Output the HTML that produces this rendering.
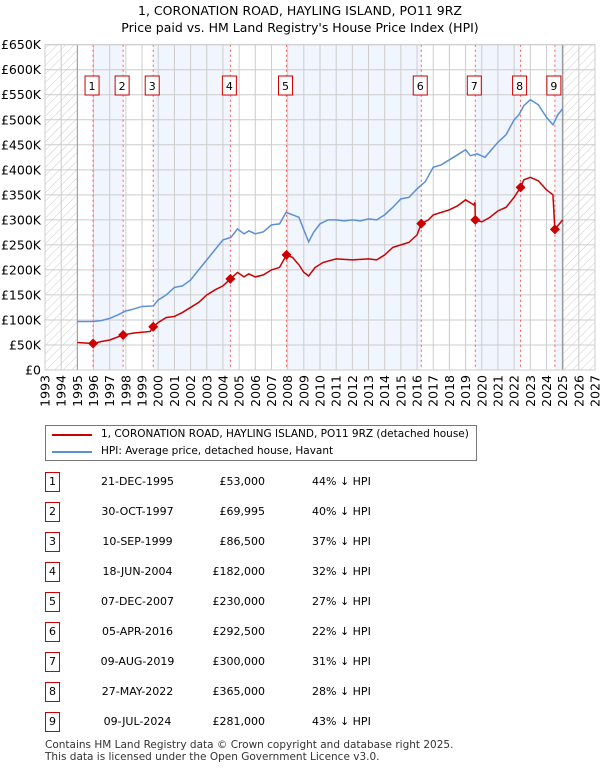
<!DOCTYPE html>
<html><head><meta charset="utf-8"><style>
body{margin:0;background:#fff;font-family:"Liberation Sans","DejaVu Sans",sans-serif;}
#wrap{position:relative;width:600px;height:770px;overflow:hidden}
text{font-family:"DejaVu Sans","Liberation Sans",sans-serif}
</style></head><body><div id="wrap">
<svg id="chart" width="600" height="770">
<defs><pattern id="hatch" width="6" height="6" patternUnits="userSpaceOnUse" patternTransform="rotate(45)"><line x1="0" y1="0" x2="0" y2="6" stroke="#ccc" stroke-width="1"/></pattern></defs>
<text x="300" y="15" text-anchor="middle" font-size="12.5">1, CORONATION ROAD, HAYLING ISLAND, PO11 9RZ</text>
<text x="300" y="32" text-anchor="middle" font-size="12.5">Price paid vs. HM Land Registry's House Price Index (HPI)</text>
<g id="plot"></g>
</svg>
<div style="position:absolute;left:45px;top:425px;width:430px;height:34px;border:1px solid #777;font-size:10.5px;white-space:nowrap;font-family:'DejaVu Sans','Liberation Sans',sans-serif">
<div style="position:absolute;left:6px;top:8px;width:40px;height:2px;background:#c00"></div>
<div style="position:absolute;left:55px;top:2px">1, CORONATION ROAD, HAYLING ISLAND, PO11 9RZ (detached house)</div>
<div style="position:absolute;left:6px;top:25px;width:40px;height:2px;background:#5b8fd6"></div>
<div style="position:absolute;left:55px;top:19px">HPI: Average price, detached house, Havant</div>
</div>
<div id="table"></div>
<div style="position:absolute;left:45px;top:739px;font-size:10.5px;line-height:12px;color:#333;white-space:nowrap;font-family:'DejaVu Sans','Liberation Sans',sans-serif">Contains HM Land Registry data © Crown copyright and database right 2025.<br>This data is licensed under the Open Government Licence v3.0.</div>
</div>
<script>
const hpiYears=[1995,1996,1996.5,1997,1997.5,1998,1998.5,1999,1999.7,2000,2000.5,2001,2001.5,2002,2002.5,2003,2003.5,2004,2004.5,2004.9,2005.3,2005.6,2006,2006.5,2007,2007.5,2007.9,2008.3,2008.7,2009.0,2009.3,2009.6,2010,2010.5,2011,2011.5,2012,2012.5,2013,2013.5,2014,2014.5,2015,2015.5,2016,2016.5,2017,2017.5,2018,2018.5,2019,2019.3,2019.7,2020.2,2020.6,2021,2021.5,2022,2022.3,2022.6,2023,2023.5,2024,2024.4,2024.7,2025];
const hpiValues=[97,97,99,103,110,118,122,127,128,140,150,165,168,180,200,220,240,260,265,282,272,278,272,276,290,292,315,310,305,280,256,275,292,300,300,298,300,298,302,300,310,325,342,345,362,376,405,410,420,430,440,428,432,425,440,455,470,500,510,528,540,530,505,490,510,522];
const propYears=[1995,1995.97,1996.5,1997,1997.83,1998.5,1999.5,1999.69,2000,2000.5,2001,2001.5,2002,2002.5,2003,2003.5,2004,2004.46,2004.9,2005.3,2005.6,2006,2006.5,2007,2007.5,2007.93,2008.3,2008.7,2009.0,2009.3,2009.7,2010.2,2011,2012,2013,2013.5,2014,2014.5,2015,2015.5,2016,2016.26,2016.7,2017,2017.5,2018,2018.5,2019,2019.5,2019.58,2019.6,2020,2020.5,2021,2021.5,2022,2022.4,2022.6,2023,2023.5,2024,2024.4,2024.52,2025];
const propValues=[55,53,57,60,70,74,77,86.5,95,105,107,115,125,135,150,160,168,182,195,186,192,186,190,200,205,230,225,210,195,188,205,215,222,220,222,220,230,245,250,255,270,292.5,300,310,315,320,328,340,330,335,300,296,305,318,325,345,365,380,385,378,360,350,281,300];
const saleYears=[1995.97,1997.83,1999.69,2004.46,2007.93,2016.26,2019.6,2022.4,2024.52];
const saleValues=[53,69.995,86.5,182,230,292.5,300,365,281];
const saleDates=["21-DEC-1995","30-OCT-1997","10-SEP-1999","18-JUN-2004","07-DEC-2007","05-APR-2016","09-AUG-2019","27-MAY-2022","09-JUL-2024"];
const salePrices=["£53,000","£69,995","£86,500","£182,000","£230,000","£292,500","£300,000","£365,000","£281,000"];
const saleDiffs=["44% ↓ HPI","40% ↓ HPI","37% ↓ HPI","32% ↓ HPI","27% ↓ HPI","22% ↓ HPI","31% ↓ HPI","28% ↓ HPI","43% ↓ HPI"];
const yTicks=[0,50,100,150,200,250,300,350,400,450,500,550,600,650];
const yTickLabels=["£0","£50K","£100K","£150K","£200K","£250K","£300K","£350K","£400K","£450K","£500K","£550K","£600K","£650K"];

const X0=45,X1=595,Y0=370,Y1=44.7;
const x=y=>X0+(y-1993)/(2027-1993)*(X1-X0);
const yS=v=>Y0-(v/650)*(Y0-Y1);
const NS="http://www.w3.org/2000/svg";
const g=document.getElementById('plot');
function mk(t,a,p){const e=document.createElementNS(NS,t);for(const k in a)e.setAttribute(k,a[k]);(p||g).appendChild(e);return e;}
const bands=[...saleYears,2025];
for(let i=0;i<bands.length-1;i++){if(i%2===0){const r=mk('rect',{x:x(bands[i]),y:Y1,width:x(bands[i+1])-x(bands[i]),height:Y0-Y1,fill:'#f1f5fd'});

}}
let h=mk('rect',{x:X0,y:Y1,width:x(1995)-X0,height:Y0-Y1,fill:'url(#hatch)'});


h=mk('rect',{x:x(2025),y:Y1,width:X1-x(2025),height:Y0-Y1,fill:'url(#hatch)'});


for(let yr=1993;yr<=2027;yr++){mk('line',{x1:x(yr),x2:x(yr),y1:Y1,y2:Y0,stroke:'#ccc','stroke-width':1});
const t=mk('text',{x:0,y:0,'font-size':12.5,'text-anchor':'end',transform:`translate(${x(yr)+4.5},${Y0+5}) rotate(-90)`});t.textContent=yr;

}
yTicks.forEach((v,i)=>{mk('line',{x1:X0,x2:X1,y1:yS(v),y2:yS(v),stroke:'#ccc','stroke-width':1});
const t=mk('text',{x:41,y:yS(v)+4.5,'font-size':12.5,'text-anchor':'end'});t.textContent=yTickLabels[i];

});
mk('line',{x1:x(1995),x2:x(1995),y1:Y1,y2:Y0,stroke:'#999','stroke-width':1});
mk('line',{x1:x(2025),x2:x(2025),y1:Y1,y2:Y0,stroke:'#999','stroke-width':1.5});
saleYears.forEach((s,i)=>{const l=mk('line',{x1:x(s),x2:x(s),y1:Y1,y2:Y0,stroke:'#f55','stroke-width':1,'stroke-dasharray':'2,3'});


const r=mk('rect',{x:x(s)-8,y:76,width:14,height:19,fill:'#fff',stroke:'#c00'});


const t=mk('text',{x:x(s)-1,y:90,'font-size':11,'text-anchor':'middle'});t.textContent=i+1;

});
const hp=mk('polyline',{points:hpiYears.map((yr,i)=>x(yr)+','+yS(hpiValues[i])).join(' '),fill:'none',stroke:'#5b8fd6','stroke-width':1.5});


const pp=mk('polyline',{points:propYears.map((yr,i)=>x(yr)+','+yS(propValues[i])).join(' '),fill:'none',stroke:'#c00','stroke-width':1.5});


saleYears.forEach((s,i)=>{const c=mk('path',{d:`M${x(s)},${yS(saleValues[i])-5}l5,5l-5,5l-5,-5z`,fill:'#c00'});

});
mk('rect',{x:X0,y:Y1,width:X1-X0,height:Y0-Y1,fill:'none',stroke:'#ccc'});
const tb=document.getElementById('table');
saleDates.forEach((d,i)=>{const top=472+i*30;
const row=document.createElement('div');


row.style.cssText=`position:absolute;left:0;top:${top}px;width:600px;height:22px;font-size:11px;font-family:'DejaVu Sans','Liberation Sans',sans-serif`;
row.innerHTML=`<div style="position:absolute;left:45px;top:0;width:13px;height:18px;border:1px solid #c00;text-align:center;line-height:18px">${i+1}</div>
<div style="position:absolute;left:80px;width:115px;top:3px;text-align:center">${d}</div>
<div style="position:absolute;left:160px;width:105px;top:3px;text-align:right">${salePrices[i]}</div>
<div style="position:absolute;left:312px;top:3px">${saleDiffs[i]}</div>`;
tb.appendChild(row);});
</script></body></html>
